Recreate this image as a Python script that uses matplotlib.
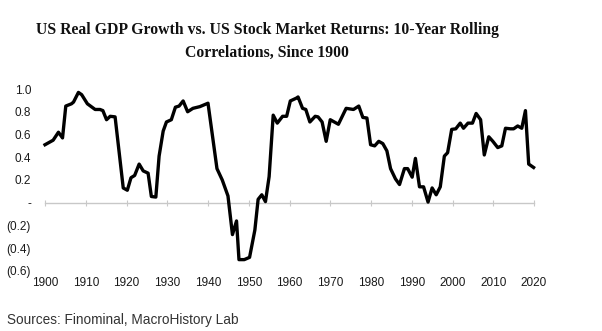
import matplotlib.pyplot as plt

# 10-year rolling correlation
years = [1900, 1902, 1903.3, 1904.3, 1905.1, 1906.5, 1907, 1908.2, 1909, 1910.4,
         1912.3, 1913.5, 1914.2, 1915.1, 1916, 1917.2, 1919.2, 1920.2, 1921.1, 1922,
         1923.1, 1924.1, 1925.3, 1926.1, 1927.2, 1928, 1929, 1929.8, 1931, 1932,
         1932.9, 1933.9, 1935, 1936.3, 1938, 1940, 1942.2, 1943.5, 1944.9, 1946,
         1947, 1947.6, 1948.9, 1950.2, 1951.5, 1952.3, 1953.2, 1954.1, 1955, 1956,
         1957, 1958.3, 1959.3, 1960.2, 1961.7, 1962.1, 1963.2, 1964, 1965, 1966.3,
         1967, 1968, 1969, 1970, 1972, 1973.9, 1975.7, 1977, 1978, 1979,
         1979.9, 1980.9, 1981.9, 1982.9, 1983.9, 1984.8, 1986, 1987, 1988.2, 1989,
         1990.1, 1990.9, 1991.9, 1992.9, 1994, 1995, 1996, 1997, 1998, 1998.8,
         1999.8, 2000.8, 2001.9, 2002.7, 2003.8, 2004.9, 2005.8, 2006.9, 2007.8, 2008.9,
         2009.9, 2011.1, 2012.1, 2013, 2014.2, 2015, 2016, 2017, 2017.9, 2018.7,
         2019.9]
corr = [0.51, 0.55, 0.62, 0.57, 0.85, 0.87, 0.885, 0.97, 0.95, 0.87,
        0.82, 0.82, 0.81, 0.73, 0.76, 0.755, 0.13, 0.11, 0.22, 0.24,
        0.34, 0.28, 0.26, 0.055, 0.05, 0.41, 0.63, 0.71, 0.73, 0.84,
        0.85, 0.895, 0.80, 0.83, 0.845, 0.875, 0.30, 0.20, 0.06, -0.28,
        -0.16, -0.50, -0.50, -0.48, -0.24, 0.03, 0.07, 0.01, 0.23, 0.77,
        0.70, 0.76, 0.76, 0.895, 0.92, 0.93, 0.83, 0.82, 0.71, 0.76,
        0.755, 0.71, 0.54, 0.73, 0.69, 0.83, 0.82, 0.85, 0.75, 0.745,
        0.51, 0.50, 0.54, 0.52, 0.456, 0.30, 0.21, 0.16, 0.30, 0.30,
        0.225, 0.39, 0.14, 0.14, 0.006, 0.13, 0.07, 0.14, 0.41, 0.44,
        0.645, 0.65, 0.70, 0.655, 0.70, 0.70, 0.785, 0.73, 0.42, 0.58,
        0.54, 0.485, 0.50, 0.655, 0.65, 0.65, 0.675, 0.655, 0.81, 0.34,
        0.31]

x_ticks = list(range(1900, 2021, 10))
y_ticks = [-0.6, -0.4, -0.2, 0.0, 0.2, 0.4, 0.6, 0.8, 1.0]
y_labels = ["(0.6)", "(0.4)", "(0.2)", "-", "0.2", "0.4", "0.6", "0.8", "1.0"]

plt.rcParams['font.family'] = ['Liberation Sans', 'DejaVu Sans']

fig = plt.figure(figsize=(6.02, 3.31), dpi=100)
ax = fig.add_axes([45 / 602, 60 / 331, 489 / 602, 182 / 331])

ax.plot(years, corr, color='black', lw=2.4, clip_on=False)

ax.set_xlim(1900, 2020)
ax.set_ylim(-0.6, 1.0)
for s in ax.spines.values():
    s.set_visible(False)

ax.set_xticks(x_ticks)
ax.set_xticklabels([str(t) for t in x_ticks], fontsize=8.5, color='#1a1a1a')
ax.set_yticks(y_ticks)
ax.set_yticklabels(y_labels, fontsize=8.5, color='#1a1a1a')
ax.tick_params(axis='both', length=0)
ax.tick_params(axis='y', pad=10)
ax.tick_params(axis='x', pad=4)

# zero line with decade tick marks
zero = ax.secondary_xaxis(0.6 / 1.6)
zero.set_xticks(x_ticks)
zero.set_xticklabels([])
zero.spines['bottom'].set_color('#c8c8c8')
zero.spines['bottom'].set_linewidth(1.0)
zero.tick_params(axis='x', direction='inout', length=4, color='#c8c8c8', width=0.8)
for k in ['top', 'left', 'right']:
    if k in zero.spines:
        zero.spines[k].set_visible(False)

fig.text(267 / 602, 1 - 30 / 331,
         "US Real GDP Growth vs. US Stock Market Returns: 10-Year Rolling",
         ha='center', va='center', fontsize=11.3, fontweight='bold',
         family='Liberation Serif', color='#111111')
fig.text(267 / 602, 1 - 53 / 331, "Correlations, Since 1900",
         ha='center', va='center', fontsize=11.3, fontweight='bold',
         family='Liberation Serif', color='#111111')

fig.text(7 / 602, 1 - 320 / 331, "Sources: Finominal, MacroHistory Lab",
         ha='left', va='center', fontsize=9.8, color='#333333')

fig.savefig('out.png', dpi=100, facecolor='white')
